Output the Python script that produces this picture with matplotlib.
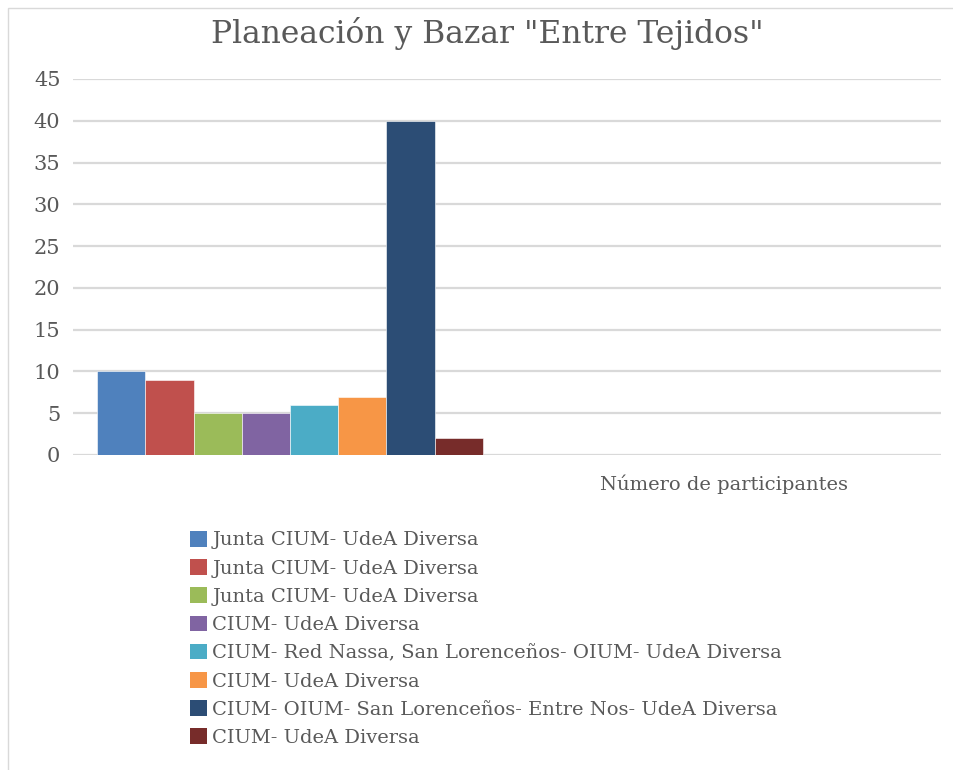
import numpy as np
import matplotlib
matplotlib.use("Agg")
import matplotlib.pyplot as plt
from matplotlib.patches import Patch, Rectangle

# datos
categorias = ["", "Número de participantes"]
series = [
    "Junta CIUM- UdeA Diversa",
    "Junta CIUM- UdeA Diversa",
    "Junta CIUM- UdeA Diversa",
    "CIUM- UdeA Diversa",
    "CIUM- Red Nassa, San Lorenceños- OIUM- UdeA Diversa",
    "CIUM- UdeA Diversa",
    "CIUM- OIUM- San Lorenceños- Entre Nos- UdeA Diversa",
    "CIUM- UdeA Diversa",
]
valores = [10, 9, 5, 5, 6, 7, 40, 2]
colores = ["#4F81BD", "#C0504D", "#9BBB59", "#8064A2",
           "#4BACC6", "#F79646", "#2C4D75", "#772C2A"]
yticks = list(range(0, 50, 5))

plt.rcParams['font.family'] = ['DejaVu Serif Condensed', 'DejaVu Serif']
gris = "#595959"

W, H = 954, 770
fig = plt.figure(figsize=(W / 100, H / 100), dpi=100)

# marco del grafico
fig.patches.append(Rectangle((8 / W, -0.1), 1.2, 1 - 8 / H + 0.1, transform=fig.transFigure,
                             fill=False, edgecolor="#D9D9D9", lw=1))

ax = fig.add_axes([73 / W, 1 - 455 / H, (941 - 73) / W, (455 - 79) / H])

n = len(series)
ancho = 0.111
x = np.arange(len(categorias))
for i in range(n):
    ax.bar(x[0] + (i - (n - 1) / 2) * ancho, valores[i], width=ancho,
           color=colores[i], edgecolor="white", linewidth=0.4, zorder=3)

ax.set_xlim(-0.5, 1.5)
ax.set_ylim(0, 45)
ax.set_yticks(yticks)
ax.set_xticks(x)
ax.set_xticklabels(categorias)
ax.grid(axis="y", color="#D9D9D9", lw=1.6, zorder=0)
for s in ax.spines.values():
    s.set_visible(False)
ax.tick_params(axis="y", length=0, pad=9, labelsize=15, labelcolor=gris)
ax.tick_params(axis="x", length=0, pad=14, labelsize=14, labelcolor=gris)

fig.text(487 / W, 1 - 34 / H, 'Planeación y Bazar "Entre Tejidos"', ha="center", va="center",
         fontsize=22.6, color=gris)

handles = [Patch(facecolor=c, edgecolor="none") for c in colores]
leg = fig.legend(handles, series, loc="upper left", bbox_to_anchor=(190 / W, 1 - 531 / H),
                 frameon=False, fontsize=14, handlelength=0.85, handleheight=0.85,
                 handletextpad=0.3, labelspacing=0.5, borderpad=0, borderaxespad=0)
for t in leg.get_texts():
    t.set_color(gris)

fig.savefig("out.png", dpi=100)
